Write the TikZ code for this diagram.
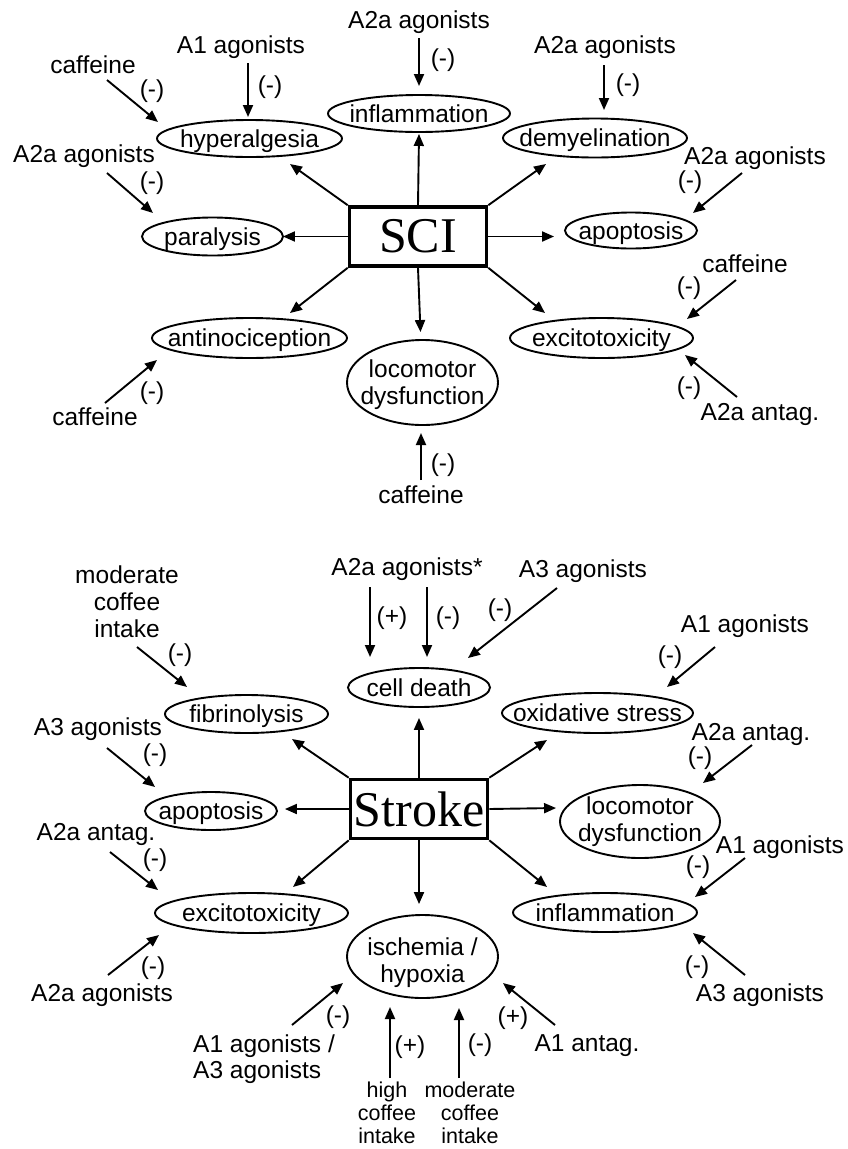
\documentclass[tikz,border=0pt]{standalone}
\usepackage{fontspec}
\setmainfont{Liberation Sans}
\newfontfamily\serifft{Liberation Serif}
\usetikzlibrary{arrows.meta,calc,shapes.geometric}
\newcommand\et[1]{\makebox[0pt]{\raisebox{-8.5pt}[0pt][0pt]{#1}}}
\newcommand\etwo[3]{\makebox[0pt]{\raisebox{#1}[0pt][0pt]{\begin{tabular}[t]{@{}c@{}}#2\\#3\end{tabular}}}}
\begin{document}
\begin{tikzpicture}[x=1pt,y=-1pt,
  ell/.style={draw, ellipse, line width=1.9pt, inner sep=0pt, font=\fontsize{24.5}{27}\selectfont},
  lbl/.style={anchor=base, inner sep=0pt, font=\fontsize{24.5}{27}\selectfont},
  sml/.style={anchor=base, inner sep=0pt, font=\fontsize{21.5}{23}\selectfont},
  bx/.style={draw, line width=3.6pt, minimum width=137pt, minimum height=59pt, inner sep=0pt, font=\serifft\fontsize{50}{50}\selectfont},
  arr/.style={line width=1.9pt, -{Triangle[length=12pt,width=10pt]}}
]
\useasboundingbox (0,0) rectangle (847,1149);

% ================= SCI =================
\node[bx] (sci) at (418,236.5) {SCI};
\node[ell, minimum width=182pt, minimum height=37pt] (infl1) at (419,113.5) {\et{inflammation}};
\node[ell, minimum width=185pt, minimum height=37pt] (hyper) at (249.5,138.5) {\et{hyperalgesia}};
\node[ell, minimum width=184pt, minimum height=39pt] (demy) at (595,138) {\et{demyelination}};
\node[ell, minimum width=141pt, minimum height=38pt] (para) at (212.5,236.5) {\et{paralysis}};
\node[ell, minimum width=132pt, minimum height=36pt] (apop1) at (631,230.5) {\et{apoptosis}};
\node[ell, minimum width=195pt, minimum height=40pt] (antin) at (249.5,338) {\et{antinociception}};
\node[ell, minimum width=183pt, minimum height=40pt] (excit1) at (601.5,338) {\et{excitotoxicity}};
\node[ell, minimum width=151pt, minimum height=85pt] (loco1) at (422.5,382.5) {\etwo{5.5pt}{locomotor}{dysfunction}};

\draw[arr] (sci.north) -- ($(infl1.south)+(0,1)$);
\draw[arr] (sci.north west) -- ($(hyper)+(40.5,25.5)$);
\draw[arr] (sci.west) -- ($(para.east)+(-1,0)$);
\draw[arr] (sci.north east) -- ($(demy)+(-49,26)$);
\draw[arr] (sci.east) -- ($(apop1.west)+(-10,6)$);
\draw[arr] (sci.south west) -- ($(antin)+(40.5,-25)$);
\draw[arr] (sci.south) -- ($(loco1.north)+(-2,-7)$);
\draw[arr] (sci.south east) -- ($(excit1)+(-56.5,-25)$);

\node[lbl] (a2aT) at (419,28) {A2a agonists};
\node[lbl] (mA) at (443,66) {(-)};
\draw[arr] ($(a2aT.base)+(0,10)$) -- ($(infl1)+(0,-27.5)$);

\node[lbl] (a1T) at (241,53) {A1 agonists};
\node[lbl] (mB) at (270,93) {(-)};
\draw[arr] ($(a1T.base)+(7,10)$) -- ($(hyper)+(-1.5,-21.5)$);

\node[lbl] (cafTL) at (93,73) {caffeine};
\node[lbl] (mC) at (152,97) {(-)};
\draw[arr] ($(cafTL.base)+(14,7)$) -- ($(hyper)+(-91.5,-16.5)$);

\node[lbl] (a2aL) at (84,162) {A2a agonists};
\node[lbl] (mD) at (152,189) {(-)};
\draw[arr] ($(a2aL.base)+(23,11)$) -- ($(para)+(-59.5,-23.5)$);

\node[lbl] (a2aTR) at (605,53) {A2a agonists};
\node[lbl] (mE) at (628,91) {(-)};
\draw[arr] ($(a2aTR.base)+(-1,12)$) -- ($(demy)+(9,-28)$);

\node[lbl] (a2aR) at (755,164) {A2a agonists};
\node[lbl] (mF) at (690,188) {(-)};
\draw[arr] ($(a2aR.base)+(-13,9)$) -- ($(apop1)+(62,-17.5)$);

\node[lbl] (cafR) at (745,272) {caffeine};
\node[lbl] (mG) at (689,294) {(-)};
\draw[arr] ($(cafR.base)+(-9,8)$) -- ($(excit1)+(85.5,-19)$);

\node[lbl] (antR) at (760,420) {A2a antag.};
\node[lbl] (mH) at (689,394) {(-)};
\draw[arr] ($(antR.base)+(-23,-23)$) -- ($(excit1)+(83.5,17)$);

\node[lbl] (cafBL) at (95,425) {caffeine};
\node[lbl] (mI) at (152,399) {(-)};
\draw[arr] ($(cafBL.base)+(10,-22)$) -- ($(antin)+(-92.5,22)$);

\node[lbl] (cafB) at (421,503) {caffeine};
\node[lbl] (mJ) at (443,471) {(-)};
\draw[arr] ($(cafB.base)+(0,-23)$) -- ($(loco1)+(-1.5,50.5)$);

% ================= Stroke =================
\node[bx] (stroke) at (419,809) {Stroke};
\node[ell, minimum width=142pt, minimum height=39pt] (cell) at (419,687.5) {\et{cell death}};
\node[ell, minimum width=163pt, minimum height=38pt] (fib) at (246.5,714) {\et{fibrinolysis}};
\node[ell, minimum width=191pt, minimum height=40pt] (oxid) at (597.5,713) {\et{oxidative stress}};
\node[ell, minimum width=132pt, minimum height=38pt] (apop2) at (211,811) {\et{apoptosis}};
\node[ell, minimum width=160pt, minimum height=73pt] (loco2) at (640,821.5) {\etwo{7.5pt}{locomotor}{dysfunction}};
\node[ell, minimum width=193pt, minimum height=40pt] (excit2) at (251.5,913) {\et{excitotoxicity}};
\node[ell, minimum width=184pt, minimum height=39pt] (infl2) at (605,912.5) {\et{inflammation}};
\node[ell, minimum width=151pt, minimum height=83pt] (isch) at (422.5,956.5) {\etwo{1.5pt}{ischemia /}{hypoxia}};

\draw[arr] (stroke.north west) -- ($(fib)+(45.5,25)$);
\draw[arr] (stroke.north) -- ($(cell.south)+(0,10)$);
\draw[arr] (stroke.north east) -- ($(oxid)+(-50.5,27)$);
\draw[arr] (stroke.west) -- ($(apop2.east)+(7,-2)$);
\draw[arr] (stroke.east) -- ($(loco2.west)+(-3,-13.5)$);
\draw[arr] (stroke.south west) -- ($(excit2)+(41.5,-26)$);
\draw[arr] (stroke.south) -- ($(isch.north)+(-3.5,-10)$);
\draw[arr] (stroke.south east) -- ($(infl2)+(-58,-25.5)$);

\node[lbl] (a2aS) at (407,575) {A2a agonists*};
\node[lbl] (pK) at (392,624) {(+)};
\node[lbl] (mK) at (448,624) {(-)};
\draw[arr] ($(a2aS.base)+(-37,12)$) -- ($(cell)+(-49,-30.5)$);
\draw[arr] ($(a2aS.base)+(20,12)$) -- ($(cell)+(8,-30.5)$);

\node[lbl] (a3T) at (583,577) {A3 agonists};
\node[lbl] (mL) at (500,616) {(-)};
\draw[arr] ($(a3T.base)+(-26,11)$) -- ($(cell)+(49,-29.5)$);

\node[lbl] (modTL) at (127,583) {\begin{tabular}[t]{@{}c@{}}moderate\\coffee\\intake\end{tabular}};
\node[lbl] (mM) at (180,661) {(-)};
\draw[arr] ($(modTL.base)+(10,64)$) -- ($(fib)+(-59.5,-27)$);

\node[lbl] (a3L) at (98,735) {A3 agonists};
\node[lbl] (mN) at (155,761) {(-)};
\draw[arr] ($(a3L.base)+(9,13)$) -- ($(apop2)+(-56,-24)$);

\node[lbl] (a1TR) at (745,632) {A1 agonists};
\node[lbl] (mO) at (670,663) {(-)};
\draw[arr] ($(a1TR.base)+(-30,15)$) -- ($(oxid)+(69.5,-26)$);

\node[lbl] (antR2) at (751,740) {A2a antag.};
\node[lbl] (mP) at (700,764) {(-)};
\draw[arr] ($(antR2.base)+(1,5)$) -- ($(loco2)+(63,-38.5)$);

\node[lbl] (antL) at (96,840) {A2a antag.};
\node[lbl] (mQ) at (155,866) {(-)};
\draw[arr] ($(antL.base)+(14,12)$) -- ($(excit2)+(-93.5,-23)$);

\node[lbl] (a2aLL) at (102,1001) {A2a agonists};
\node[lbl] (mR) at (153,974) {(-)};
\draw[arr] ($(a2aLL.base)+(6,-26)$) -- ($(excit2)+(-92.5,22)$);

\node[lbl] (a1R) at (780,853) {A1 agonists};
\node[lbl] (mS) at (698,873) {(-)};
\draw[arr] ($(a1R.base)+(-35,5)$) -- ($(infl2)+(90,-15.5)$);

\node[lbl] (a3R) at (760,1001) {A3 agonists};
\node[lbl] (mT) at (697,973) {(-)};
\draw[arr] ($(a3R.base)+(-15,-26)$) -- ($(infl2)+(88,20.5)$);

\node[lbl] (a1ant) at (587,1051) {A1 antag.};
\node[lbl] (pU) at (513,1024) {(+)};
\draw[arr] ($(a1ant.base)+(-32,-26)$) -- ($(isch)+(80.5,26.5)$);

\node[lbl, anchor=base west] (a1a3) at (193,1052) {\begin{tabular}[t]{@{}l@{}}A1 agonists /\\[-1pt]A3 agonists\end{tabular}};
\node[lbl] (mV) at (338,1023) {(-)};
\draw[arr] ($(a1a3.base west)+(99,-27)$) -- ($(isch)+(-79.5,26.5)$);

\node[sml] (highC) at (387,1097) {\begin{tabular}[t]{@{}c@{}}high\\coffee\\intake\end{tabular}};
\node[lbl] (pW) at (410,1053) {(+)};
\draw[arr] ($(highC.base)+(3,-19)$) -- ($(isch)+(-32.5,50.5)$);

\node[sml] (modB) at (470,1097) {\begin{tabular}[t]{@{}c@{}}moderate\\coffee\\intake\end{tabular}};
\node[lbl] (mX) at (480,1051) {(-)};
\draw[arr] ($(modB.base)+(-11,-19)$) -- ($(isch)+(36.5,51.5)$);
\end{tikzpicture}
\end{document}
